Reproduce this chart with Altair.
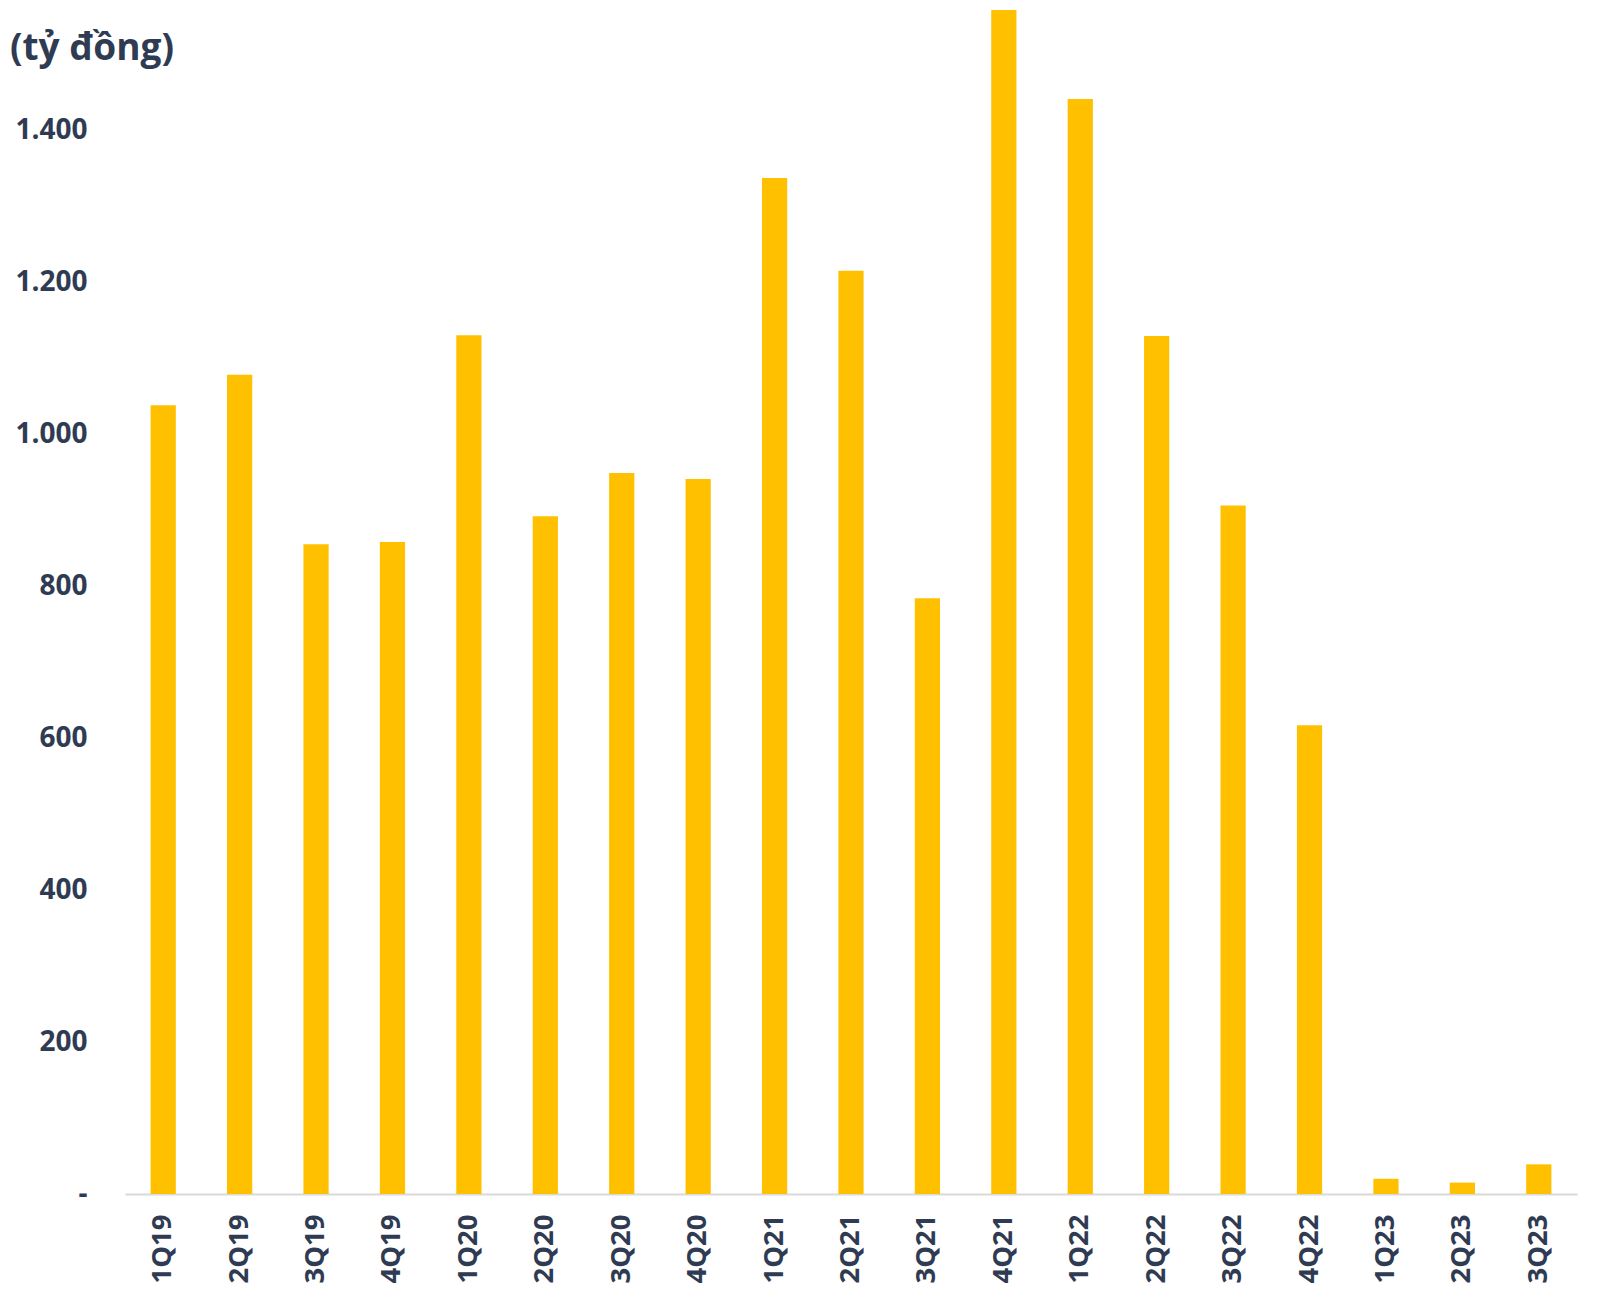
import altair as alt
import pandas as pd

quarters = ["1Q19", "2Q19", "3Q19", "4Q19", "1Q20", "2Q20", "3Q20", "4Q20",
            "1Q21", "2Q21", "3Q21", "4Q21", "1Q22", "2Q22", "3Q22", "4Q22",
            "1Q23", "2Q23", "3Q23"]
values = [1038, 1078, 855, 858, 1130, 892, 949, 941,
          1337, 1215, 784, 1558, 1441, 1129, 906, 617,
          20, 15, 39]
y_ticks = [0, 200, 400, 600, 800, 1000, 1200, 1400]
unit_label = ["(tỷ đồng)"]

df = pd.DataFrame({"q": quarters, "v": values})
FONT = "Open Sans"
TEXT = "#2F3B52"

bars = alt.Chart(df).mark_bar(color="#FFC000").encode(
    x=alt.X("q:N", sort=quarters,
            scale=alt.Scale(paddingInner=0.67, paddingOuter=0.335),
            axis=alt.Axis(title=None, labelAngle=-90, labelFont=FONT, labelFontSize=27.5,
                          labelFontWeight="bold", labelColor=TEXT, ticks=False,
                          domainColor="#D9D9D9", domainWidth=2, labelPadding=20)),
    y=alt.Y("v:Q", scale=alt.Scale(domain=[0, 1570], nice=False),
            axis=alt.Axis(title=None, values=y_ticks, grid=False, domain=False, ticks=False,
                          labelFont=FONT, labelFontSize=28, labelFontWeight="bold",
                          labelColor=TEXT, labelPadding=38,
                          labelExpr="datum.value == 0 ? '-' : replace(format(datum.value, ','), ',', '.')")),
)

title = alt.Chart(pd.DataFrame({"t": unit_label})).mark_text(
    font=FONT, fontSize=37, fontWeight="bold", color=TEXT, align="left", baseline="middle"
).encode(x=alt.value(-115), y=alt.value(48), text="t:N")

chart = alt.layer(bars, title).properties(
    width=1452, height=1193,
    background="white",
    autosize=alt.AutoSizeParams(type="none"),
    padding={"left": 125, "top": 1, "right": 23, "bottom": 105},
).configure_view(strokeWidth=0, stroke="transparent")

chart.save("out.html", embed_options={"renderer": "svg", "actions": False})
